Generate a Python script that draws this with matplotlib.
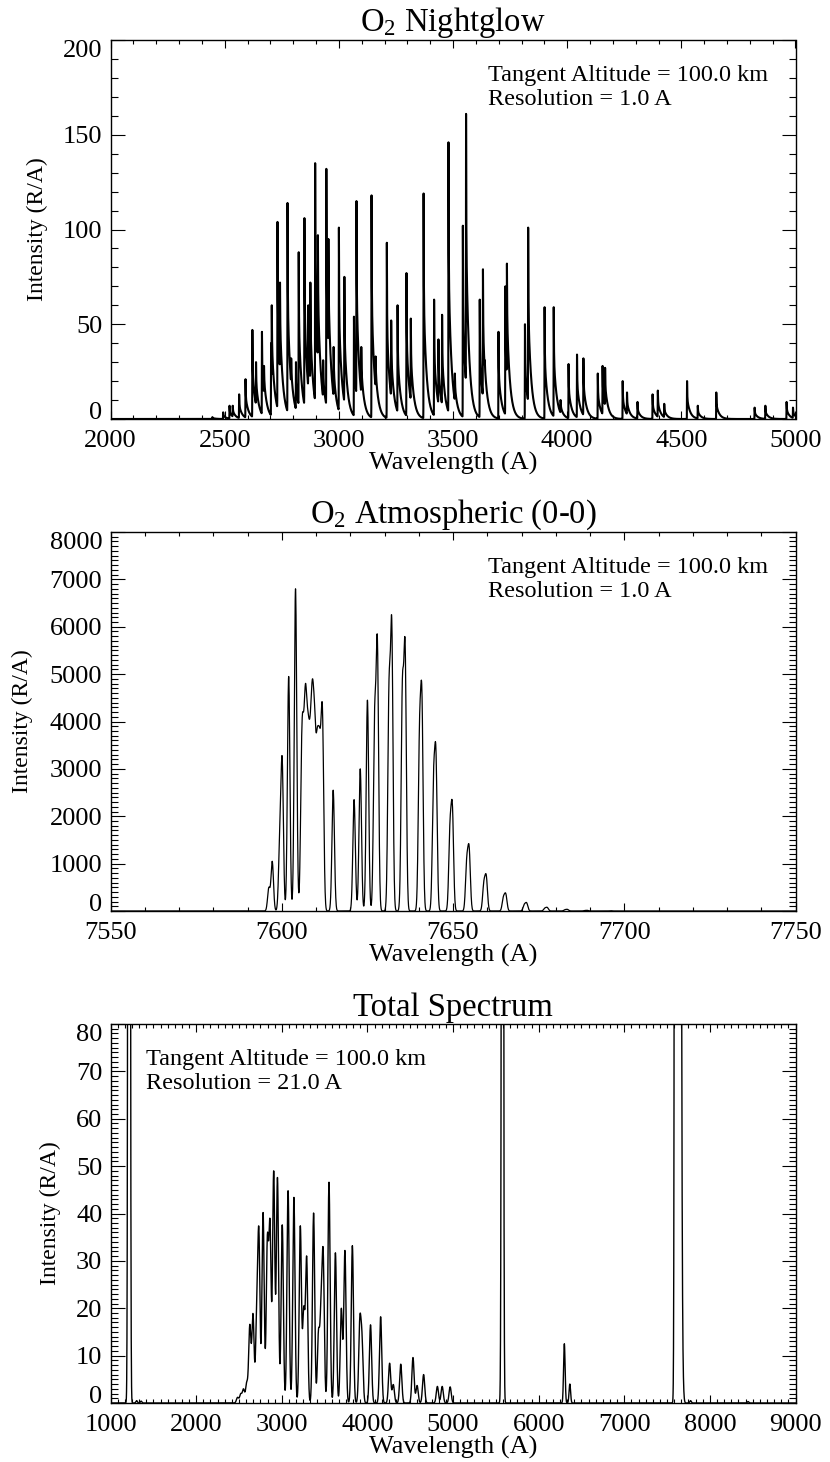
import numpy as np
import matplotlib
matplotlib.use('Agg')
import matplotlib.pyplot as plt
from matplotlib.ticker import MultipleLocator

# ---------------- data ----------------
# Panel 1: O2 Nightglow band heads (wavelength A, peak intensity R/A)
ng_head_wl = [2446, 2493, 2521, 2535, 2563, 2591, 2621, 2637, 2663, 2672,
              2703, 2706, 2731, 2742, 2775, 2791, 2812, 2824, 2849, 2866,
              2875, 2896, 2908, 2931, 2945, 2954, 2977, 3000, 3024, 3066,
              3077, 3098, 3143, 3161, 3210, 3229, 3257, 3296, 3315, 3371,
              3417, 3436, 3452, 3480, 3508, 3543, 3557, 3617, 3631, 3639,
              3699, 3729, 3736, 3815, 3829, 3901, 3941, 3971, 4006, 4043,
              4071, 4134, 4155, 4166, 4243, 4262, 4308, 4374, 4397, 4425,
              4525, 4572, 4653, 4821, 4868, 4961, 4989]
ng_head_int = [1.0, 3.5, 7, 7, 13, 21, 47, 30, 46, 28,
               40, 60, 104, 72, 114, 32, 30, 88, 106, 60,
               72, 135, 97, 31, 132, 95, 38, 101, 75, 54,
               115, 38, 118, 33, 93, 52, 60, 77, 53, 119,
               63, 42, 55, 146, 24, 102, 161, 63, 79, 31,
               46, 70, 82, 50, 101, 59, 59, 10, 29, 34,
               32, 24, 28, 27, 20, 14, 9, 13, 15, 8,
               20, 7, 14, 6, 7, 9, 6]

# Panel 2: O2 Atmospheric (0-0) lines (wavelength A, intensity R/A)
atm_line_wl = [7596.2, 7597.2, 7599.4, 7600.1, 7602.0, 7604.0, 7605.8, 7606.3,
               7606.9, 7607.5, 7608.0, 7608.5, 7609.0, 7609.6, 7610.3, 7610.9,
               7611.4, 7611.9, 7615.0, 7621.1, 7622.9, 7625.0,
               7627.1, 7627.9, 7631.3, 7632.1, 7635.2, 7636.0, 7640.2, 7640.9,
               7644.3, 7645.0, 7649.1, 7649.8, 7654.0, 7654.7, 7659.0, 7659.7,
               7664.7, 7665.4, 7670.8, 7671.5, 7676.8, 7677.5, 7682.7, 7683.4,
               7688.5, 7689.2, 7696.0]
atm_line_int = [500, 1050, 1800, 3250, 4950, 6800, 3700, 4200,
                4800, 4300, 4050, 4400, 4900, 4300, 3850, 3900,
                4000, 4200, 2550, 2350, 3000, 4450,
                4300, 5790, 4900, 6180, 4900, 5700, 4000, 4680,
                2950, 3430, 1900, 2270, 1150, 1370, 640, 760,
                310, 370, 145, 175, 64, 77, 29, 35,
                11, 14, 6]

# Panel 3: total spectrum at 21 A resolution
tot_band_wl = [2483, 2520, 2552, 2590, 2626, 2663, 2707, 2732, 2781, 2831,
               2862, 2905, 2949, 3005, 3073, 3141, 3216, 3256, 3290,
               3371, 3428, 3458, 3483, 3551, 3626, 3695, 3737, 3824, 3911,
               3936, 4036, 4154, 4259, 4302, 4389, 4532, 4580, 4656, 4817,
               4873, 4966]
tot_band_int = [1.2, 2.0, 3.0, 4.5, 16.6, 18.9, 22.7, 36.9, 40.2, 35.5,
                38.7, 49.0, 47.6, 37.6, 44.8, 43.4, 37.4, 20.4, 31.0,
                40.1, 15.5, 22.9, 32.4, 46.6, 31.7, 20.0, 32.2, 33.2, 18.3,
                15.0, 16.5, 18.2, 8.4, 3.9, 8.2, 9.6, 3.7, 6.0, 3.5,
                3.5, 3.4]
tot_atomic_wl = [1216, 1304, 1356, 5577, 6300, 6364, 7774, 8446]
tot_atomic_int = [690, 0.5, 0.4, 360, 12.5, 4.0, 0.5, 0.3]

titles = [r'$\mathrm{O_2}$ Nightglow', r'$\mathrm{O_2}$ Atmospheric (0-0)', 'Total Spectrum']
ann_lines = [['Tangent Altitude = 100.0 km', 'Resolution = 1.0 A'],
             ['Tangent Altitude = 100.0 km', 'Resolution = 1.0 A'],
             ['Tangent Altitude = 100.0 km', 'Resolution = 21.0 A']]
xlims = [(2000, 5000), (7550, 7750), (1000, 9000)]
ylims = [(0, 200), (0, 8000), (0, 80)]
yticks = [[0, 50, 100, 150, 200],
          [0, 1000, 2000, 3000, 4000, 5000, 6000, 7000, 8000],
          [0, 10, 20, 30, 40, 50, 60, 70, 80]]
xticks = [[2000, 2500, 3000, 3500, 4000, 4500, 5000],
          [7550, 7600, 7650, 7700, 7750],
          [1000, 2000, 3000, 4000, 5000, 6000, 7000, 8000, 9000]]


# ---------------- build spectra ----------------
def band_profile(d):
    # red-degraded band: sharp head plus a decaying tail
    dp = np.clip(d, 0, None)
    return np.where(d >= 0, 0.45 * np.exp(-dp / 1.0) + 0.55 * np.exp(-dp / 13.0),
                    np.exp(-0.5 * (d / 0.4) ** 2))


def gauss(d, s):
    return np.exp(-0.5 * (d / s) ** 2)


def solve_amps(x, vals, kernel):
    # amplitudes such that the summed curve passes through the read peak values
    M = kernel(np.subtract.outer(np.asarray(x, float), np.asarray(x, float)))
    a = np.linalg.solve(M, np.asarray(vals, float))
    return np.clip(a, 0, None)


wl1 = np.arange(2000, 5000.01, 0.5)
amp1 = solve_amps(ng_head_wl, ng_head_int, band_profile)
spec1 = np.zeros_like(wl1)
for x0, a in zip(ng_head_wl, amp1):
    spec1 += a * band_profile(wl1 - x0)

sig_line = 0.36
wl2 = np.arange(7550, 7750.001, 0.05)
amp2 = solve_amps(atm_line_wl, atm_line_int, lambda d: gauss(d, sig_line))
spec2 = np.zeros_like(wl2)
for x0, a in zip(atm_line_wl, amp2):
    spec2 += a * gauss(wl2 - x0, sig_line)

sig_res = 21.0 / 2.3548
sig_band = 13.0
wl3 = np.arange(1000, 9000.01, 1.0)
spec3 = np.zeros_like(wl3)
amp3 = solve_amps(tot_band_wl, tot_band_int, lambda d: gauss(d, sig_band))
for x0, a in zip(tot_band_wl, amp3):
    spec3 += a * gauss(wl3 - x0, sig_band)
for x0, h in zip(tot_atomic_wl, tot_atomic_int):
    spec3 += h * gauss(wl3 - x0, sig_res)
# O2 atmospheric band degraded to 21 A resolution
sig_c = np.hypot(sig_line, sig_res)
for x0, a in zip(atm_line_wl, amp2):
    spec3 += a * sig_line / sig_c * gauss(wl3 - x0, sig_c)

# ---------------- plotting ----------------
plt.rcParams['font.family'] = ['Liberation Serif', 'DejaVu Serif']
plt.rcParams['mathtext.fontset'] = 'custom'
plt.rcParams['mathtext.rm'] = 'Liberation Serif'
plt.rcParams['mathtext.it'] = 'Liberation Serif:italic'
plt.rcParams['mathtext.bf'] = 'Liberation Serif:bold'

fig = plt.figure(figsize=(8.3, 14.62), dpi=100)
W, H = 830.0, 1462.0
left, right = 110.6, 795.5
tops = [40, 532, 1024]
height = 379
ylab_x = [-0.092, -0.113, -0.073]
ann_x = [0.551, 0.551, 0.052]
xminor = [100, 10, 1000 / 12]
yminor = [10, 100, 1]
specs = [(wl1, spec1, 1.5), (wl2, spec2, 0.9), (wl3, spec3, 1.0)]

for i in range(3):
    t = tops[i]
    ax = fig.add_axes([left / W, 1 - (t + height) / H, (right - left) / W, height / H])
    x, y, lw = specs[i]
    ax.plot(x, y, color='black', lw=lw)
    ax.set_xlim(*xlims[i])
    ax.set_ylim(*ylims[i])
    ax.set_xticks(xticks[i])
    ax.set_yticks(yticks[i])
    ax.xaxis.set_minor_locator(MultipleLocator(xminor[i]))
    ax.yaxis.set_minor_locator(MultipleLocator(yminor[i]))
    ax.tick_params(which='both', direction='in', top=True, right=True,
                   color='black', width=0.8)
    ax.tick_params(axis='y', which='major', length=9.9, pad=6, labelsize=19)
    ax.tick_params(axis='y', which='minor', length=4.9)
    ax.tick_params(axis='x', which='major', length=5.5, pad=8, labelsize=19)
    ax.tick_params(axis='x', which='minor', length=2.7)
    for s in ax.spines.values():
        s.set_linewidth(1.0)
    yt = ax.yaxis.get_major_ticks()
    yt[0].label1.set_va('baseline')
    yt[-1].label1.set_va('top')
    ax.set_title(titles[i], fontsize=23.5, pad=6)
    ax.set_xlabel('Wavelength (A)', fontsize=19)
    ax.xaxis.set_label_coords(0.5, -0.088)
    ax.set_ylabel('Intensity (R/A)', fontsize=17)
    ax.yaxis.set_label_coords(ylab_x[i], 0.5)
    ax.text(ann_x[i], 0.907, ann_lines[i][0], transform=ax.transAxes,
            fontsize=17.5, va='center', ha='left')
    ax.text(ann_x[i], 0.844, ann_lines[i][1], transform=ax.transAxes,
            fontsize=17.5, va='center', ha='left')

fig.savefig('out.png', dpi=100)
